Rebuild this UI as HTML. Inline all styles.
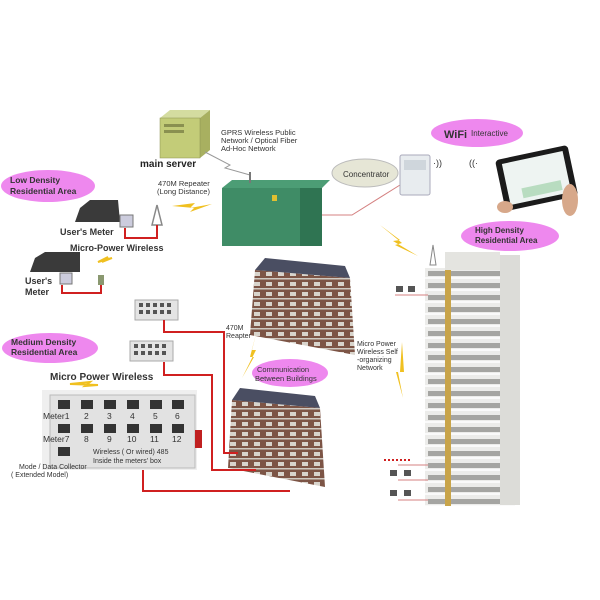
<!DOCTYPE html>
<html><head><meta charset="utf-8"><style>
html,body{margin:0;padding:0;background:#fff}
svg{display:block}
text{font-family:"Liberation Sans",Arial,sans-serif}
</style></head><body>
<svg width="600" height="600" viewBox="0 0 600 600" xmlns="http://www.w3.org/2000/svg">
<defs>
<pattern id="brick" width="12" height="10" patternUnits="userSpaceOnUse">
<rect width="12" height="10" fill="#7d5546"/><rect x="2" y="2" width="6" height="4" fill="#d8d4cc"/><rect x="0" y="8" width="12" height="1.5" fill="#cfcac2"/>
</pattern>
<pattern id="floor" x="425" y="268" width="90" height="12" patternUnits="userSpaceOnUse">
<rect width="90" height="12" fill="#ececea"/><rect x="3" y="3" width="84" height="5" fill="#a5a5a2"/><rect x="0" y="9" width="90" height="2" fill="#fafafa"/><rect x="20" y="0" width="6" height="12" fill="#c8a44a"/>
</pattern>
</defs>

<!-- server -->
<polygon points="160,118 170,110 210,110 200,118" fill="#d4dca0"/>
<polygon points="200,118 210,110 210,150 200,158" fill="#a8b060"/>
<rect x="160" y="118" width="40" height="40" fill="#c3cc78" stroke="#8a9050" stroke-width="0.5"/>
<rect x="164" y="124" width="20" height="3" fill="#8a9050"/><rect x="164" y="130" width="20" height="3" fill="#8a9050"/>
<text x="140" y="167" font-size="10" font-weight="bold" fill="#222">main server</text>
<text x="221" y="135" font-size="7.5" fill="#333">GPRS Wireless Public</text>
<text x="221" y="143" font-size="7.5" fill="#333">Network / Optical Fiber</text>
<text x="221" y="151" font-size="7.5" fill="#333">Ad-Hoc Network</text>
<polyline points="205,152 230,165 225,168 250,175" fill="none" stroke="#999" stroke-width="1"/>

<!-- transformer -->
<polygon points="222,188 232,180 330,180 322,188" fill="#4c9d75"/>
<rect x="222" y="188" width="100" height="58" fill="#3f8c66"/>
<rect x="300" y="188" width="22" height="58" fill="#2f7452"/>
<rect x="272" y="195" width="5" height="6" fill="#e0c030"/>
<line x1="250" y1="172" x2="250" y2="183" stroke="#777" stroke-width="2"/>
<text x="158" y="186" font-size="7.5" fill="#333">470M Repeater</text>
<text x="157" y="194" font-size="7.5" fill="#333">(Long Distance)</text>
<polygon points="172,206 195,203 190,208 212,204 190,212 194,208" fill="#f0c020"/>
<polygon points="152,225 157,205 162,225" fill="none" stroke="#888" stroke-width="1.5"/>

<!-- concentrator cloud -->
<ellipse cx="365" cy="173" rx="33" ry="14" fill="#e6e6d6" stroke="#bbb"/>
<text x="343" y="177" font-size="8" fill="#333">Concentrator</text>
<polyline points="322,215 352,215 400,185" fill="none" stroke="#d48080" stroke-width="1"/>
<rect x="400" y="155" width="30" height="40" rx="2" fill="#e8ecef" stroke="#aab"/>
<rect x="404" y="160" width="22" height="10" fill="#cfd6dc"/>
<text x="433" y="166" font-size="9" fill="#333">·))</text>
<text x="469" y="166" font-size="9" fill="#333">((·</text>
<!-- tablet -->
<g transform="rotate(-12 537 180)">
<rect x="500" y="152" width="74" height="52" rx="4" fill="#1b1b1b"/>
<rect x="506" y="157" width="62" height="42" fill="#eef4f2"/>
<rect x="520" y="185" width="40" height="10" fill="#b8dcc0"/>
</g>
<ellipse cx="570" cy="200" rx="8" ry="16" fill="#d7a88a"/>
<ellipse cx="505" cy="207" rx="8" ry="6" fill="#d7a88a"/>
<!-- wifi cloud -->
<ellipse cx="477" cy="133" rx="46" ry="14" fill="#ee88ee"/>
<text x="444" y="138" font-size="11" font-weight="bold" fill="#333">WiFi</text>
<text x="471" y="136" font-size="8" fill="#333">Interactive</text>
<!-- high density -->
<ellipse cx="510" cy="236" rx="49" ry="15" fill="#ee88ee"/>
<text x="475" y="233" font-size="8" font-weight="bold" fill="#333">High Density</text>
<text x="475" y="243" font-size="8" font-weight="bold" fill="#333">Residential Area</text>
<polygon points="380,225 400,240 393,241 418,256 395,245 402,243" fill="#f0c020"/>

<!-- tower -->
<rect x="425" y="268" width="90" height="238" fill="url(#floor)"/>
<rect x="500" y="255" width="20" height="250" fill="#dcdcd8"/>
<rect x="445" y="252" width="55" height="18" fill="#e4e4e0"/>
<polygon points="430,265 433,245 436,265" fill="none" stroke="#888"/>
<rect x="396" y="286" width="7" height="6" fill="#555"/><rect x="408" y="286" width="7" height="6" fill="#555"/>
<line x1="395" y1="295" x2="428" y2="295" stroke="#d48080"/>
<text x="357" y="346" font-size="7" fill="#333">Micro Power</text>
<text x="357" y="354" font-size="7" fill="#333">Wireless Self</text>
<text x="357" y="362" font-size="7" fill="#333">-organizing</text>
<text x="357" y="370" font-size="7" fill="#333">Network</text>
<polygon points="402,342 404,372 398,372 403,398 396,372 400,372" fill="#f0c020"/>
<line x1="384" y1="460" x2="412" y2="460" stroke="#d02020" stroke-dasharray="2,2" stroke-width="2"/>
<rect x="390" y="470" width="7" height="6" fill="#555"/><rect x="404" y="470" width="7" height="6" fill="#555"/>
<rect x="390" y="490" width="7" height="6" fill="#555"/><rect x="404" y="490" width="7" height="6" fill="#555"/>
<path d="M398,465 H428 M398,480 H428 M398,500 H428" stroke="#d48080" fill="none"/>

<!-- buildings -->
<polygon points="255,270 350,278 355,355 250,335" fill="url(#brick)"/>
<polygon points="255,270 265,258 345,266 350,278" fill="#4a4e62"/>
<polygon points="232,400 320,408 325,487 228,468" fill="url(#brick)"/>
<polygon points="232,400 240,388 315,396 320,408" fill="#4a4e62"/>
<text x="226" y="330" font-size="7" fill="#333">470M</text>
<text x="226" y="338" font-size="7" fill="#333">Reapter</text>
<polygon points="257,330 250,357 254,357 242,378 256,350 252,350" fill="#f0c020"/>
<ellipse cx="290" cy="373" rx="38" ry="14" fill="#ee88ee"/>
<text x="257" y="372" font-size="7.5" fill="#333">Communication</text>
<text x="255" y="381" font-size="7.5" fill="#333">Between Buildings</text>

<!-- low density -->
<ellipse cx="48" cy="186" rx="47" ry="16" fill="#ee88ee"/>
<text x="10" y="183" font-size="8.5" font-weight="bold" fill="#333">Low Density</text>
<text x="10" y="194" font-size="8.5" font-weight="bold" fill="#333">Residential Area</text>
<polygon points="75,222 80,208 90,200 118,200 120,222" fill="#3a3a3a"/>
<rect x="120" y="215" width="13" height="12" fill="#ccd" stroke="#777"/>
<text x="60" y="235" font-size="9" font-weight="bold" fill="#333">User's Meter</text>
<polyline points="125,228 125,238 157,238 157,225" fill="none" stroke="#d02020" stroke-width="2"/>
<text x="70" y="251" font-size="9" font-weight="bold" fill="#333">Micro-Power Wireless</text>
<polygon points="98,262 108,257 102,262 112,258" fill="none" stroke="#f0c020" stroke-width="2"/>
<polygon points="30,272 35,258 45,252 80,252 80,272" fill="#3a3a3a"/>
<rect x="60" y="273" width="12" height="11" fill="#ccd" stroke="#777"/>
<text x="25" y="284" font-size="9" font-weight="bold" fill="#333">User's</text>
<text x="25" y="295" font-size="9" font-weight="bold" fill="#333">Meter</text>
<polyline points="62,285 62,293 101,293 101,275" fill="none" stroke="#d02020" stroke-width="2"/>
<rect x="98" y="275" width="6" height="10" fill="#8a9870"/>

<!-- small boxes -->
<rect x="135" y="300" width="43" height="20" fill="#e4e4e4" stroke="#aaa"/>
<rect x="130" y="341" width="43" height="20" fill="#e4e4e4" stroke="#aaa"/>
<g fill="#555">
<rect x="139" y="303" width="4" height="4"/><rect x="146" y="303" width="4" height="4"/><rect x="153" y="303" width="4" height="4"/><rect x="160" y="303" width="4" height="4"/><rect x="167" y="303" width="4" height="4"/>
<rect x="139" y="310" width="4" height="4"/><rect x="146" y="310" width="4" height="4"/><rect x="153" y="310" width="4" height="4"/><rect x="160" y="310" width="4" height="4"/><rect x="167" y="310" width="4" height="4"/>
<rect x="134" y="344" width="4" height="4"/><rect x="141" y="344" width="4" height="4"/><rect x="148" y="344" width="4" height="4"/><rect x="155" y="344" width="4" height="4"/><rect x="162" y="344" width="4" height="4"/>
<rect x="134" y="351" width="4" height="4"/><rect x="141" y="351" width="4" height="4"/><rect x="148" y="351" width="4" height="4"/><rect x="155" y="351" width="4" height="4"/><rect x="162" y="351" width="4" height="4"/>
</g>
<g fill="none" stroke="#d02020" stroke-width="2">
<polyline points="164,320 164,332 224,332 224,453 238,453"/>
<polyline points="164,362 164,375 212,375 212,470 256,470"/>
<polyline points="143,470 143,491 290,491"/>
</g>

<!-- medium density -->
<ellipse cx="50" cy="348" rx="48" ry="15" fill="#ee88ee"/>
<text x="11" y="345" font-size="8.5" font-weight="bold" fill="#333">Medium Density</text>
<text x="11" y="355" font-size="8.5" font-weight="bold" fill="#333">Residential Area</text>
<text x="50" y="380" font-size="10" font-weight="bold" fill="#333">Micro Power Wireless</text>
<polygon points="70,384 90,382 85,386 98,385" fill="none" stroke="#f0c020" stroke-width="2"/>
<rect x="42" y="390" width="155" height="80" fill="#efefef"/>
<rect x="50" y="395" width="145" height="73" fill="#e2e2e2" stroke="#bbb"/>
<g fill="#333">
<rect x="58" y="400" width="12" height="9"/><rect x="81" y="400" width="12" height="9"/><rect x="104" y="400" width="12" height="9"/><rect x="127" y="400" width="12" height="9"/><rect x="150" y="400" width="12" height="9"/><rect x="172" y="400" width="12" height="9"/>
<rect x="58" y="424" width="12" height="9"/><rect x="81" y="424" width="12" height="9"/><rect x="104" y="424" width="12" height="9"/><rect x="127" y="424" width="12" height="9"/><rect x="150" y="424" width="12" height="9"/><rect x="172" y="424" width="12" height="9"/>
<rect x="58" y="447" width="12" height="9"/>
</g>
<g font-size="8.5" fill="#333">
<text x="43" y="419">Meter1</text><text x="84" y="419">2</text><text x="107" y="419">3</text><text x="130" y="419">4</text><text x="153" y="419">5</text><text x="175" y="419">6</text>
<text x="43" y="442">Meter7</text><text x="84" y="442">8</text><text x="107" y="442">9</text><text x="127" y="442">10</text><text x="150" y="442">11</text><text x="172" y="442">12</text>
</g>
<text x="93" y="454" font-size="7" fill="#333">Wireless ( Or wired) 485</text>
<text x="93" y="463" font-size="7" fill="#333">Inside the meters' box</text>
<text x="19" y="469" font-size="7" fill="#333">Mode / Data  Collector</text>
<text x="11" y="477" font-size="7" fill="#333">( Extended Model)</text>
<rect x="195" y="430" width="7" height="18" fill="#c02020"/>
</svg>
</body></html>
